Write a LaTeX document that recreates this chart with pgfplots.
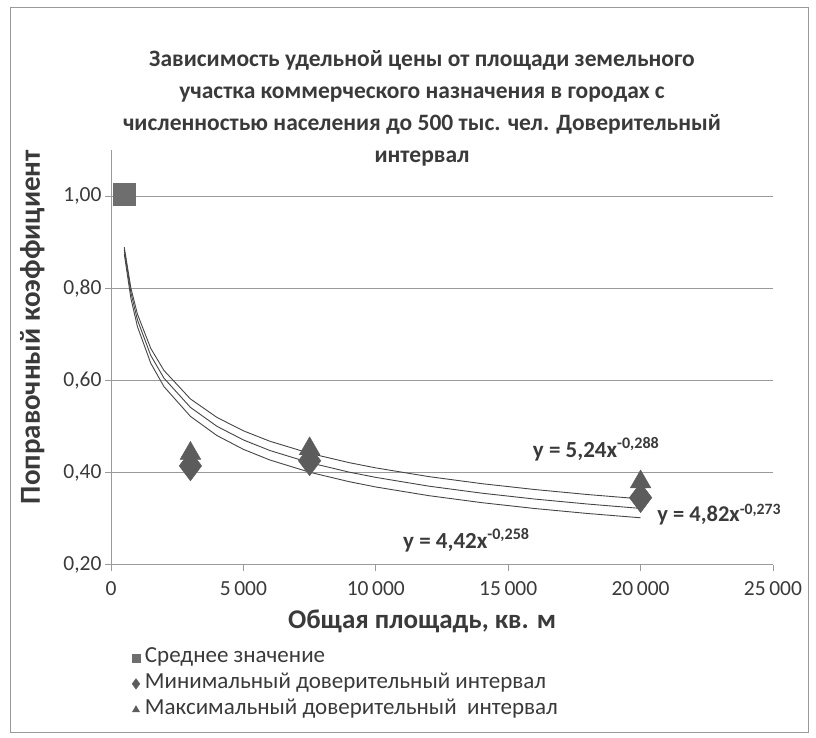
\documentclass[border=0pt]{standalone}
\usepackage{fontspec}
\setmainfont{Carlito}
\usepackage{pgfplots}
\pgfplotsset{compat=1.18}
\definecolor{txt}{HTML}{3A3A3A}
\definecolor{gridc}{HTML}{9A9A9A}
\definecolor{curve}{HTML}{454545}
\definecolor{mk}{HTML}{5C5C5C}
\definecolor{sq}{HTML}{6E6E6E}
\begin{document}
\begin{tikzpicture}
\useasboundingbox (0pt,0pt) rectangle (816pt,738pt);
\draw[gridc, line width=1pt] (10pt,5pt) rectangle (808pt,730pt);
\node[align=center, text=txt, font=\fontsize{23.5}{32}\selectfont\bfseries] at (422pt,630pt)
  {Зависимость удельной цены от площади земельного\\
   участка коммерческого назначения в городах с\\
   численностью населения до 500 тыс. чел. Доверительный\\
   интервал};
\begin{axis}[
  at={(111pt,173pt)}, anchor=south west,
  scale only axis, width=662pt, height=415pt,
  xmin=0, xmax=25000, ymin=0.2, ymax=1.1,
  xtick={0,5000,10000,15000,20000,25000},
  ytick={0.2,0.4,0.6,0.8,1.0},
  scaled ticks=false,
  axis lines=left, axis line style={-, gridc, line width=1pt},
  ymajorgrids, xmajorgrids=false, major grid style={gridc, line width=1pt},
  tick style={gridc, line width=1pt}, tick align=outside, major tick length=6pt,
  ticklabel style={text=txt, font=\fontsize{21.5}{23}\selectfont},
  /pgf/number format/assume math mode=true,
  xticklabel style={/pgf/number format/1000 sep={\,}, yshift=-7pt},
  yticklabel style={/pgf/number format/fixed, /pgf/number format/fixed zerofill,
    /pgf/number format/precision=2, /pgf/number format/use comma},
  yticklabel={\pgfmathprintnumber{\tick}\hspace{9pt}},
  xlabel={Общая площадь, кв. м},
  ylabel={Поправочный коэффициент},
  label style={text=txt, font=\fontsize{27}{29}\selectfont\bfseries},
  xlabel style={at={(axis description cs:0.470,-0.137)}, anchor=center},
  ylabel style={at={(axis description cs:-0.119,0.573)}, anchor=center,
    font=\fontsize{29}{31}\selectfont\bfseries},
  clip=false,
  legend style={at={(axis description cs:0.027,-0.192)}, anchor=north west, draw=none,
    fill=none, font=\fontsize{23}{24}\selectfont, text=txt, row sep=4pt,
    column sep=3pt, legend cell align=left,
    nodes={text height=14pt, text depth=4pt, inner sep=2pt}},
  legend image post style={scale=0.35},
]
% trend lines
\addplot[curve, line width=0.9pt, forget plot] coordinates {
 (500,0.8893) (750,0.8010) (1000,0.7437) (1500,0.6699) (2000,0.6219) (3000,0.5601)
 (4000,0.5201) (5000,0.4910) (6000,0.4684) (7500,0.4422) (9000,0.4219) (10000,0.4106)
 (12000,0.3917) (14000,0.3764) (16000,0.3637) (18000,0.3528) (20000,0.3434)};
\addplot[curve, line width=0.9pt, forget plot] coordinates {
 (500,0.8836) (750,0.7910) (1000,0.7312) (1500,0.6546) (2000,0.6052) (3000,0.5418)
 (4000,0.5008) (5000,0.4712) (6000,0.4483) (7500,0.4219) (9000,0.4013) (10000,0.3900)
 (12000,0.3710) (14000,0.3558) (16000,0.3430) (18000,0.3322) (20000,0.3227)};
\addplot[curve, line width=0.9pt, forget plot] coordinates {
 (500,0.8750) (750,0.7786) (1000,0.7167) (1500,0.6377) (2000,0.5869) (3000,0.5223)
 (4000,0.4808) (5000,0.4508) (6000,0.4277) (7500,0.4012) (9000,0.3806) (10000,0.3692)
 (12000,0.3504) (14000,0.3352) (16000,0.3225) (18000,0.3117) (20000,0.3024)};
% legend-only entry for the average (its marker is drawn on top later)
\addlegendimage{only marks, mark=square*, mark size=11pt, color=sq}
\addlegendentry{Среднее значение}
\addplot[only marks, mark=diamond*, mark size=15pt, color=mk] coordinates {
 (3000,0.415) (7500,0.426) (20000,0.346)};
\addlegendentry{Минимальный доверительный интервал}
\addplot[only marks, mark=triangle*, mark size=12pt, color=mk] coordinates {
 (500,1.00) (3000,0.442) (7500,0.452) (20000,0.38)};
\addlegendentry{Максимальный доверительный\ \ интервал}
\addplot[only marks, mark=square*, mark size=11pt, color=sq, forget plot] coordinates {
 (500,1.005)};
\node[anchor=west, text=txt, font=\fontsize{23}{24}\selectfont\bfseries] at (axis cs:15800,0.452)
  {y = 5,24x\textsuperscript{-0,288}};
\node[anchor=west, text=txt, font=\fontsize{22.5}{24}\selectfont\bfseries] at (axis cs:20500,0.309)
  {y = 4,82x\textsuperscript{-0,273}};
\node[anchor=west, text=txt, font=\fontsize{23}{24}\selectfont\bfseries] at (axis cs:10900,0.254)
  {y = 4,42x\textsuperscript{-0,258}};
\end{axis}
\end{tikzpicture}
\end{document}
